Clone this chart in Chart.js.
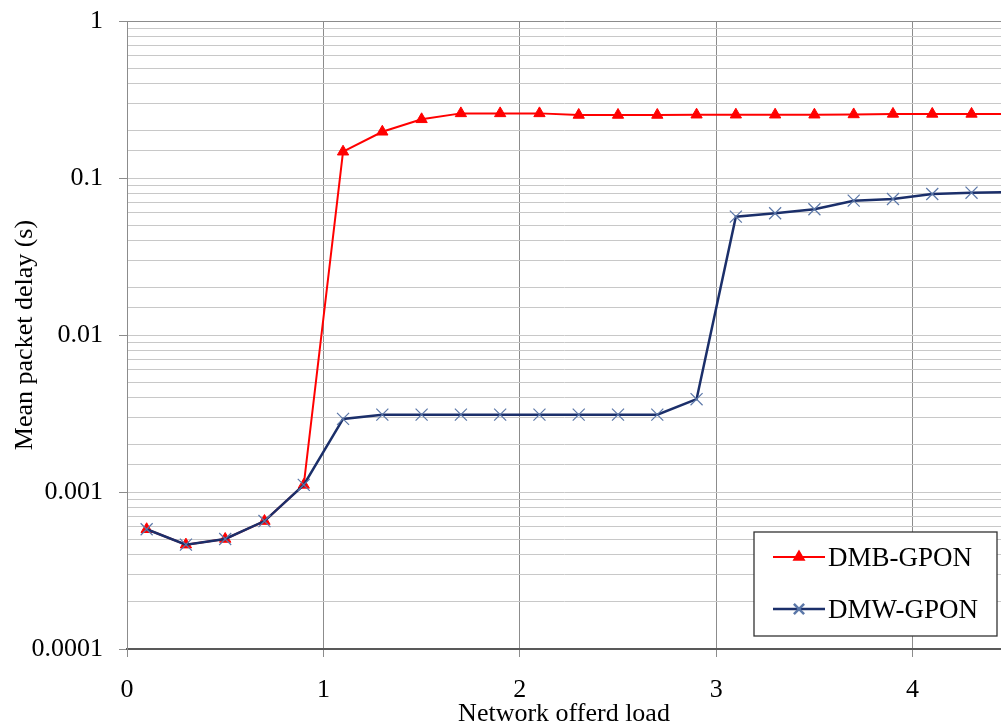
<!DOCTYPE html>
<html>
<head>
<meta charset="utf-8">
<script src="https://cdn.jsdelivr.net/npm/chart.js@4.4.1/dist/chart.umd.min.js"></script>
<style>
  html, body { margin: 0; padding: 0; background: #fff; }
  #wrap { width: 1001px; height: 726px; }
</style>
</head>
<body>
<div id="wrap"><canvas id="delayChart" width="1001" height="726"></canvas></div>
<script>
// carga ofrecida (eje x)
const loadX = [0.1, 0.3, 0.5, 0.7, 0.9, 1.1, 1.3, 1.5, 1.7, 1.9, 2.1, 2.3,
               2.5, 2.7, 2.9, 3.1, 3.3, 3.5, 3.7, 3.9, 4.1, 4.3, 4.5];

// retardo medio (s)
const dmbDelay = [0.000579, 0.000462, 0.000502, 0.000653, 0.00111, 0.147, 0.197, 0.2365,
                  0.258, 0.258, 0.258, 0.252, 0.252, 0.252, 0.253, 0.253, 0.253, 0.253,
                  0.254, 0.256, 0.256, 0.256, 0.256];
const dmwDelay = [0.000579, 0.000462, 0.000502, 0.000653, 0.00111, 0.00292, 0.00311, 0.00311,
                  0.00311, 0.00311, 0.00311, 0.00311, 0.00311, 0.00311, 0.0039, 0.0567,
                  0.0596, 0.0632, 0.0717, 0.0735, 0.0791, 0.0806, 0.0815];

const seriesNames = ['DMB-GPON', 'DMW-GPON'];

const yDecades = [0.0001, 0.001, 0.01, 0.1, 1];
const yTickLabels = ['0.0001', '0.001', '0.01', '0.1', '1'];
const xTicks = [0, 1, 2, 3, 4];

const serif = "'Liberation Serif', 'Times New Roman', serif";

function decadeIndex(v) {
    return yDecades.findIndex(d => Math.abs(Math.log10(v) - Math.log10(d)) < 1e-6);
}

function toPoints(ys) {
    return loadX.map((x, i) => ({ x: x, y: ys[i] }));
}

// sin relleno extra alrededor de los ejes
function noPadding(scale) {
    scale.paddingTop = 0;
    scale.paddingBottom = 0;
    scale.paddingLeft = 0;
    scale.paddingRight = 0;
}

// leyenda dibujada dentro del area del grafico
const boxLegend = {
    id: 'boxLegend',
    afterDraw(chart) {
        const ctx = chart.ctx;
        const area = chart.chartArea;
        const w = 243, h = 104;
        const left = area.right - 4 - w;
        const top = area.bottom - 13 - h;
        ctx.save();
        ctx.fillStyle = '#ffffff';
        ctx.fillRect(left, top, w, h);
        ctx.strokeStyle = '#333333';
        ctx.lineWidth = 1.3;
        ctx.strokeRect(left, top, w, h);

        chart.data.datasets.forEach((ds, i) => {
            const cy = top + 25 + i * 52;
            const x0 = left + 19, x1 = left + 71;
            ctx.strokeStyle = ds.borderColor;
            ctx.lineWidth = ds.borderWidth;
            ctx.beginPath();
            ctx.moveTo(x0, cy);
            ctx.lineTo(x1, cy);
            ctx.stroke();
            ctx.fillStyle = ds.pointBackgroundColor;
            ctx.strokeStyle = ds.pointBorderColor;
            Chart.helpers.drawPoint(ctx, {
                pointStyle: ds.pointStyle,
                radius: ds.pointRadius * 0.85,
                rotation: 0,
                borderWidth: ds.pointBorderWidth
            }, (x0 + x1) / 2, cy);

            ctx.fillStyle = '#000000';
            ctx.font = '27px ' + serif;
            ctx.textAlign = 'left';
            ctx.textBaseline = 'alphabetic';
            ctx.fillText(ds.label, left + 74, cy + 9);
        });
        ctx.restore();
    }
};

new Chart(document.getElementById('delayChart'), {
    type: 'line',
    data: {
        datasets: [
            {
                label: seriesNames[0],
                data: toPoints(dmbDelay),
                borderColor: '#ff0000',
                borderWidth: 2,
                pointStyle: 'triangle',
                pointRadius: 6.5,
                pointBackgroundColor: '#ff0000',
                pointBorderColor: '#ff0000',
                pointBorderWidth: 1,
                tension: 0,
                order: 1
            },
            {
                label: seriesNames[1],
                data: toPoints(dmwDelay),
                borderColor: '#1b2f6a',
                borderWidth: 2.5,
                pointStyle: 'crossRot',
                pointRadius: 8.5,
                pointBackgroundColor: '#5b77a8',
                pointBorderColor: '#5b77a8',
                pointBorderWidth: 1.2,
                tension: 0,
                order: 0
            }
        ]
    },
    options: {
        responsive: false,
        animation: false,
        layout: { autoPadding: false, padding: { top: 21, left: 0, right: 0, bottom: 0 } },
        plugins: {
            legend: { display: false },
            tooltip: { enabled: false }
        },
        scales: {
            x: {
                type: 'linear',
                min: 0,
                max: 4.45,
                afterBuildTicks: (scale) => {
                    scale.ticks = xTicks.map(v => ({ value: v }));
                },
                afterFit: (scale) => { scale.height = 77; noPadding(scale); },
                ticks: {
                    includeBounds: false,
                    padding: 18,
                    color: '#000',
                    font: { family: serif, size: 26 }
                },
                grid: {
                    color: '#8c8c8c',
                    tickColor: '#8c8c8c',
                    tickLength: 8,
                    lineWidth: 1
                },
                border: { color: '#595959', width: 2 },
                title: {
                    display: true,
                    text: 'Network offerd load',
                    color: '#000',
                    font: { family: serif, size: 26, lineHeight: 0.9 },
                    padding: 0
                }
            },
            y: {
                type: 'logarithmic',
                min: 0.0001,
                max: 1,
                afterFit: (scale) => { scale.width = 127; noPadding(scale); },
                ticks: {
                    autoSkip: false,
                    padding: 16,
                    color: '#000',
                    font: { family: serif, size: 26 },
                    callback: (v) => {
                        const i = decadeIndex(v);
                        return i >= 0 ? yTickLabels[i] : '';
                    }
                },
                grid: {
                    lineWidth: 1,
                    tickLength: 8,
                    color: (c) => {
                        const v = c.tick ? c.tick.value : 0;
                        if (Math.abs(v - 0.0001) < 1e-9) return 'rgba(0,0,0,0)';
                        if (Math.abs(v - 1) < 1e-9) return '#8c8c8c';
                        return '#c8c8c8';
                    },
                    tickColor: (c) => {
                        const v = c.tick ? c.tick.value : 0;
                        return decadeIndex(v) >= 0 ? '#8c8c8c' : 'rgba(0,0,0,0)';
                    }
                },
                border: { color: '#8c8c8c', width: 1 },
                title: {
                    display: true,
                    text: 'Mean packet delay (s)',
                    color: '#000',
                    font: { family: serif, size: 26, lineHeight: 1 },
                    padding: { top: 12, bottom: 0 }
                }
            }
        }
    },
    plugins: [boxLegend]
});
</script>
</body>
</html>
